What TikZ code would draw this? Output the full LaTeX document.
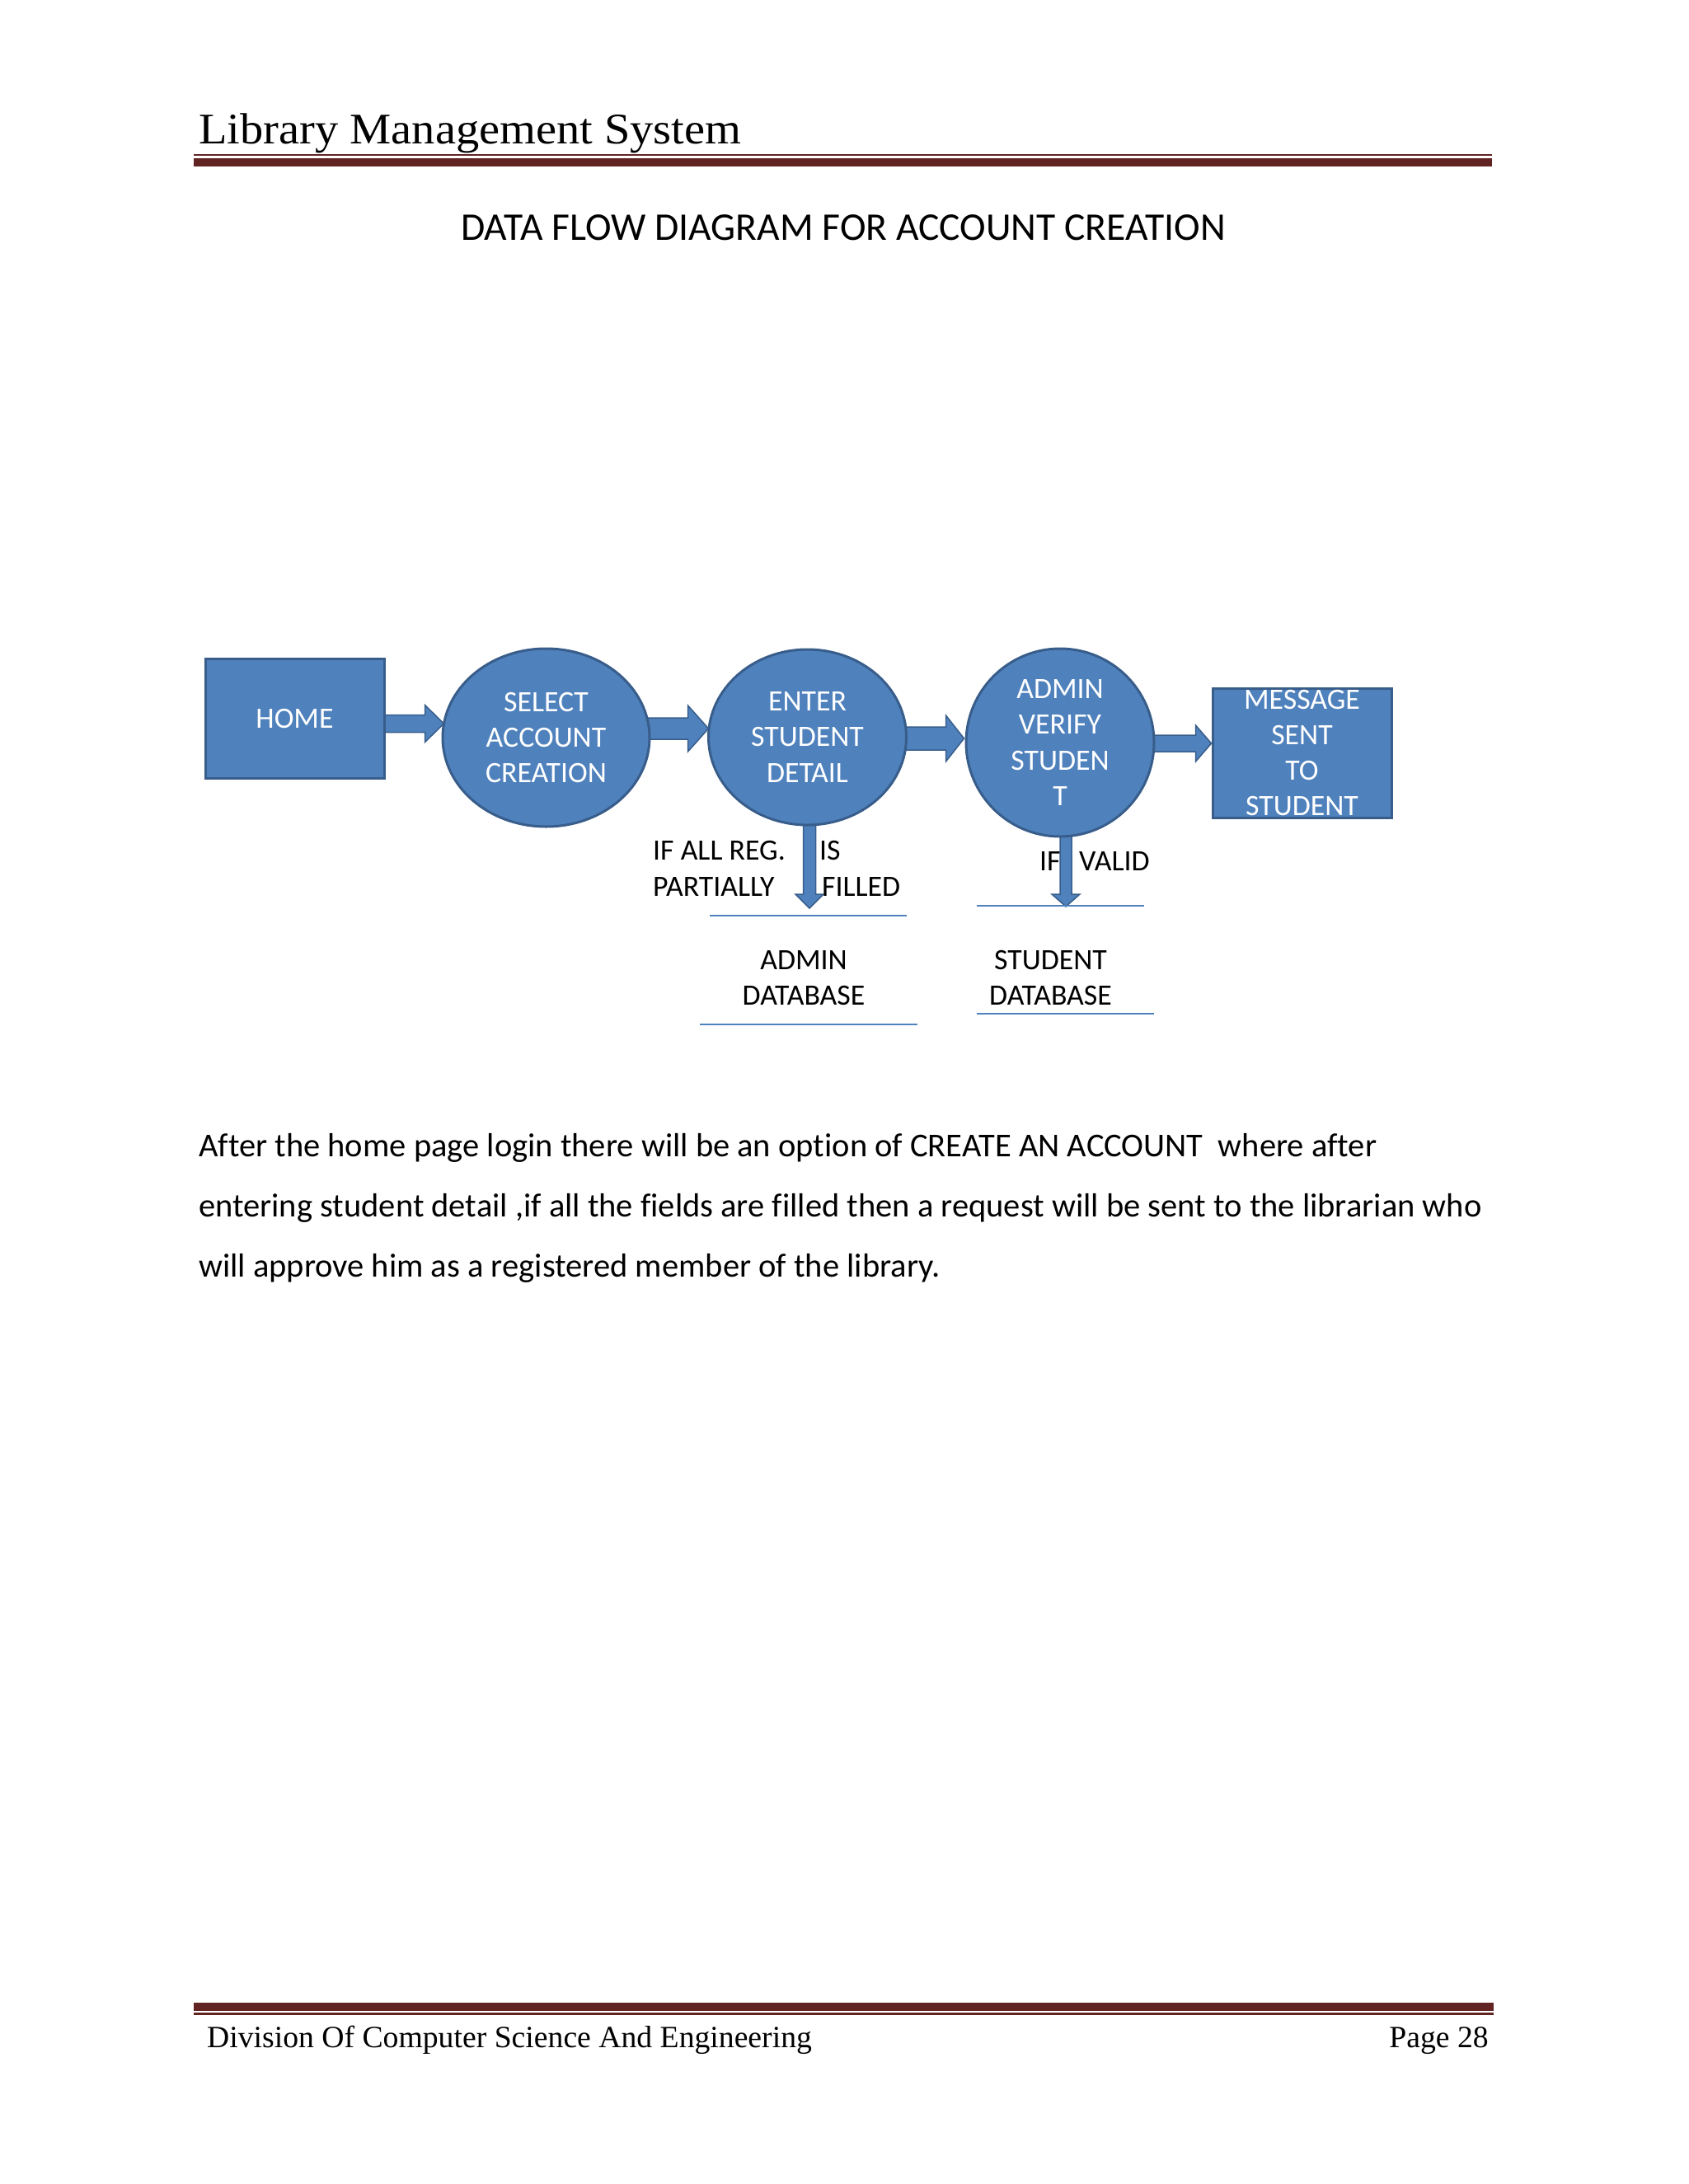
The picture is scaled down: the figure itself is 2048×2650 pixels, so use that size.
\documentclass[tikz,border=0pt]{standalone}
\usepackage{fontspec}
\setmainfont{Carlito}[Ligatures={NoCommon}]
\newfontfamily\hdrfont[FakeStretch=1.065]{Liberation Serif}
\newfontfamily\ftrfont[FakeStretch=1.005]{Liberation Serif}
\usetikzlibrary{calc,shapes.geometric,backgrounds}
\definecolor{dfill}{HTML}{4F81BD}
\definecolor{dline}{HTML}{385D8A}
\definecolor{rulecol}{HTML}{622423}
\newcommand\diagfont{\fontsize{35.8}{43.3}\selectfont}
\newcommand\harrow[5]{\draw[barrow] let \p1=(#1), \p2=(#2) in
 (\x1,\y2+#3) -- (\x2-#5,\y2+#3) -- (\x2-#5,\y2+#4) -- (\x2,\y2) -- (\x2-#5,\y2-#4) -- (\x2-#5,\y2-#3) -- (\x1,\y2-#3) -- cycle;}
\newcommand\varrow[5]{\draw[barrow] let \p1=(#1), \p2=(#2) in
 (\x2-#3,\y1) -- (\x2-#3,\y2+#5) -- (\x2-#4,\y2+#5) -- (\x2,\y2) -- (\x2+#4,\y2+#5) -- (\x2+#3,\y2+#5) -- (\x2+#3,\y1) -- cycle;}
\tikzset{
  proc/.style={draw=dline, line width=3pt, fill=dfill, text=white, font=\diagfont, align=center, inner sep=0pt},
  barrow/.style={draw=dline, line width=1.5pt, fill=dfill, line join=miter},
  dbline/.style={draw=dfill, line width=2pt},
  rulethin/.style={draw=rulecol, line width=2.6pt},
  rulethick/.style={draw=rulecol, line width=9.7pt},
  lbl/.style={font=\diagfont, text=black, inner sep=0pt},
  body/.style={font=\fontsize{40.5}{48}\selectfont, text=black, inner sep=0pt, anchor=base west},
}
\begin{document}
\begin{tikzpicture}[x=1pt,y=-1pt]
\useasboundingbox (0,0) rectangle (2048,2650);
% header
\node[font=\hdrfont\fontsize{53}{60}\selectfont, anchor=base west, inner sep=0pt] (hdr) at (241,174) {Library Management System};
\coordinate (h1a) at (235,188); \coordinate (h1b) at (1810,188);
\coordinate (h2a) at (235,197); \coordinate (h2b) at (1810,197);
\draw[rulethin] (h1a) -- (h1b);
\draw[rulethick] (h2a) -- (h2b);
% title
\node[font=\fontsize{47.6}{56}\selectfont, anchor=base, inner sep=0pt] (title) at (1023,291.5) {DATA FLOW DIAGRAM FOR ACCOUNT CREATION};
% processes
\node[proc, rectangle, minimum width=217pt, minimum height=145pt] (home) at (357.5,871.5) {HOME};
\node[proc, ellipse, minimum width=251pt, minimum height=216pt] (select) at (662.5,895) {SELECT\\ACCOUNT\\CREATION};
\node[proc, ellipse, minimum width=240pt, minimum height=213pt] (enter) at (979.5,894.5) {ENTER\\STUDENT\\DETAIL};
\node[proc, ellipse, minimum width=228pt, minimum height=228pt, inner sep=-2pt] (admin) at (1286,901) {ADMIN\\VERIFY\\STUDEN\\T};
\node[proc, rectangle, minimum width=217pt, minimum height=157pt, inner ysep=-6pt] (msg) at (1579.5,913.5) {MESSAGE\\SENT\\TO\\STUDENT};
% arrow tips
\coordinate (t1) at ($(select.west)+(3,-17)$);
\coordinate (t2) at ($(enter.west)+(1.5,-10.5)$);
\coordinate (t3) at ($(admin.west)+(-1,-5)$);
\coordinate (t4) at ($(msg.west)+(0,-11.5)$);
\coordinate (d1) at (982,1102);
\coordinate (d2) at (1293,1100);
\begin{scope}[on background layer]
\harrow{home.center}{t1}{10.5pt}{22.5pt}{23pt}
\harrow{select.center}{t2}{13pt}{28pt}{25pt}
\harrow{enter.center}{t3}{14pt}{28pt}{22pt}
\harrow{admin.center}{t4}{10pt}{22pt}{19pt}
\varrow{enter.center}{d1}{7.5pt}{17pt}{17pt}
\varrow{admin.center}{d2}{7pt}{17pt}{15pt}
\end{scope}
% labels
\node[lbl, anchor=base west] (l1) at (792,1043) {IF ALL REG.};
\node[lbl, anchor=base west] (l2) at (994,1043) {IS};
\node[lbl, anchor=base west] (l3) at (792,1087) {PARTIALLY};
\node[lbl, anchor=base west] (l4) at (997,1087) {FILLED};
\node[lbl, anchor=base west] (l5) at (1261,1056) {IF};
\node[lbl, anchor=base west] (l6) at (1309,1056) {VALID};
% data stores
\coordinate (a1) at (861,1111); \coordinate (a2) at (1100,1111);
\coordinate (a3) at (849,1243); \coordinate (a4) at (1113,1243);
\coordinate (s1) at (1185,1099); \coordinate (s2) at (1388,1099);
\coordinate (s3) at (1185,1230); \coordinate (s4) at (1400,1230);
\draw[dbline] (a1) -- (a2);
\draw[dbline] (a3) -- (a4);
\draw[dbline] (s1) -- (s2);
\draw[dbline] (s3) -- (s4);
\node[lbl, align=center] (admdb) at (975,1186.5) {ADMIN\\DATABASE};
\node[lbl, align=center] (studb) at (1274.5,1186.5) {STUDENT\\DATABASE};
% body text
\node[body] (b1) at (241,1403) {After the home page login there will be an option of CREATE AN ACCOUNT\ \ where after};
\node[body] (b2) at (241,1476) {entering student detail ,if all the fields are filled then a request will be sent to the librarian who};
\node[body] (b3) at (241,1549) {will approve him as a registered member of the library.};
% footer
\coordinate (f1a) at (235,2435); \coordinate (f1b) at (1812,2435);
\coordinate (f2a) at (235,2443.5); \coordinate (f2b) at (1812,2443.5);
\draw[rulethick] (f1a) -- (f1b);
\draw[draw=rulecol, line width=2.5pt] (f2a) -- (f2b);
\node[font=\ftrfont\fontsize{37.5}{44}\selectfont, anchor=base west, inner sep=0pt] (ftl) at (251,2484) {Division Of Computer Science And Engineering};
\node[font=\ftrfont\fontsize{37.5}{44}\selectfont, anchor=base east, inner sep=0pt] (ftr) at (1806,2484) {Page 28};
\end{tikzpicture}
\end{document}
